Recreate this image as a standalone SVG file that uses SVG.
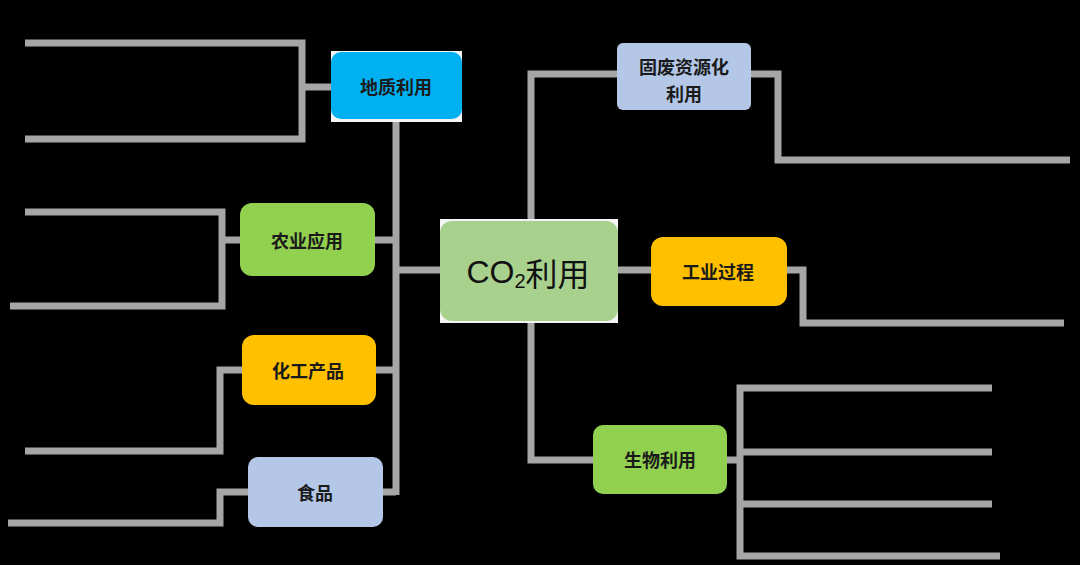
<svg xmlns="http://www.w3.org/2000/svg" width="1080" height="565" viewBox="0 0 1080 565">
<style>
.ln{fill:none;stroke:#a6a6a6;stroke-width:7;stroke-linejoin:miter;stroke-linecap:butt}
.t{font-family:"Noto Sans CJK SC","Noto Sans",sans-serif;font-size:18px;font-weight:600;fill:#1a1a1a;text-anchor:middle;dominant-baseline:central}
.big{font-family:"Liberation Sans","Noto Sans CJK SC",sans-serif;font-size:32px;fill:#111;text-anchor:middle;dominant-baseline:central}
</style>
<rect width="1080" height="565" fill="#000"/>
<g id="connectors">
<path class="ln" d="M396 120 V495 M396 270 H440 M375 240 H396 M376 370 H396 M383 492 H396"/>
<path class="ln" d="M331 87 H302 M25 43 H302 V139 H25"/>
<path class="ln" d="M240 240 H222 M25 212 H222 V306 H10"/>
<path class="ln" d="M242 370 H220 V451 H25"/>
<path class="ln" d="M248 492 H220 V523 H8"/>
<path class="ln" d="M531 220 V74 H617 M751 74 H778 V160 H1070"/>
<path class="ln" d="M617 270 H651 M787 270 H803 V323 H1064"/>
<path class="ln" d="M531 322 V460 H593 M727 460 H740 M992 388 H740 V556 H1000 M740 452 H992 M740 504 H992"/>
</g>
<g id="n-co2">
<rect x="440" y="219" width="178" height="104" fill="#f4f4f4"/>
<rect x="440" y="221" width="178" height="100" rx="12" fill="#a9d18e"/>
<text class="big" x="528" y="272">CO<tspan font-size="20" dy="9">2</tspan><tspan dy="-9" font-family="Noto Sans CJK SC,sans-serif">利用</tspan></text>
</g>
<g id="n-geo">
<rect x="331" y="51" width="131" height="71" fill="#f4f4f4"/>
<rect x="331" y="52" width="131" height="67" rx="10" fill="#00b0f0"/>
<text class="t" x="396" y="86">地质利用</text>
</g>
<g id="n-agri">
<rect x="240" y="203" width="135" height="73" rx="12" fill="#92d050"/>
<text class="t" x="307" y="240">农业应用</text>
</g>
<g id="n-chem">
<rect x="242" y="335" width="134" height="70" rx="12" fill="#ffc000"/>
<text class="t" x="308" y="370">化工产品</text>
</g>
<g id="n-food">
<rect x="248" y="457" width="135" height="70" rx="10" fill="#b4c7e7"/>
<text class="t" x="315" y="492">食品</text>
</g>
<g id="n-waste">
<rect x="617" y="43" width="134" height="67" rx="6" fill="#b4c7e7"/>
<text class="t" x="684" y="66" font-size="17">固废资源化</text>
<text class="t" x="684" y="93" font-size="17">利用</text>
</g>
<g id="n-ind">
<rect x="651" y="237" width="136" height="69" rx="12" fill="#ffc000"/>
<text class="t" x="718" y="271">工业过程</text>
</g>
<g id="n-bio">
<rect x="593" y="425" width="134" height="69" rx="10" fill="#92d050"/>
<text class="t" x="660" y="459">生物利用</text>
</g>
</svg>
